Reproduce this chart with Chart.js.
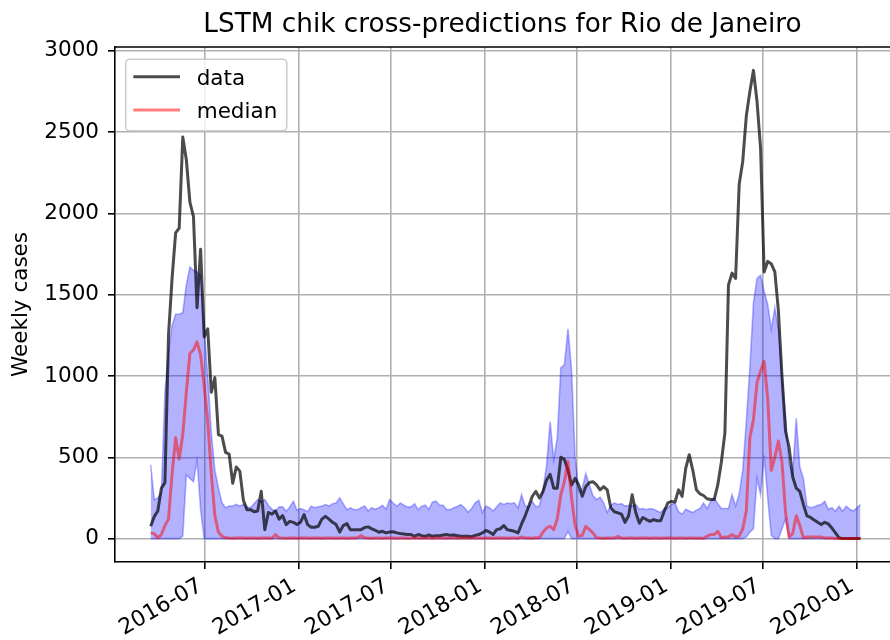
<!DOCTYPE html>
<html>
<head>
<meta charset="utf-8">
<script src="https://cdn.jsdelivr.net/npm/chart.js@4.4.1/dist/chart.umd.min.js"></script>
<style>
html,body{margin:0;padding:0;background:#fff;overflow:hidden;}
canvas{display:block;}
</style>
</head>
<body>
<canvas id="c" width="890" height="640"></canvas>
<script>
// ---------------- data (weekly, first week below) ----------------
const startDate = '2016-03-17';

const dataCases = [
  76, 135, 170, 310, 344, 1250, 1600, 1880, 1910, 2470,
  2330, 2070, 1980, 1420, 1780, 1240, 1290, 900, 990, 640,
  630, 530, 520, 340, 440, 415, 235, 178, 178, 165,
  170, 291, 55, 160, 150, 170, 120, 141, 86, 106,
  100, 86, 100, 148, 86, 70, 70, 76, 120, 137,
  120, 100, 86, 40, 80, 92, 55, 55, 55, 55,
  68, 72, 60, 51, 39, 45, 35, 40, 42, 35,
  31, 28, 25, 25, 14, 25, 18, 14, 22, 14,
  18, 18, 22, 25, 20, 22, 18, 14, 14, 14,
  12, 20, 25, 35, 50, 40, 25, 55, 60, 80,
  55, 50, 45, 35, 90, 140, 199, 260, 290, 250,
  290, 360, 395, 310, 310, 500, 486, 420, 330, 370,
  330, 260, 320, 345, 350, 330, 300, 320, 300, 190,
  165, 158, 150, 100, 140, 270, 160, 95, 130, 117,
  106, 117, 110, 110, 168, 220, 229, 225, 300, 260,
  430, 516, 420, 300, 275, 265, 245, 240, 240, 330,
  470, 650, 1560, 1633, 1600, 2180, 2320, 2600, 2750, 2880,
  2690, 2400, 1640, 1705, 1690, 1640, 1400, 1000, 660, 560,
  380, 310, 291, 210, 140, 130, 115, 100, 86, 100,
  90, 65, 35, 5, 0, 0, 0, 0, 0, 0
];

const medianCases = [
  35, 30, 5, 25, 80, 120, 400, 620, 490, 640,
  900, 1140, 1160, 1210, 1130, 940, 720, 400, 140, 40,
  15, 5, 3, 2, 3, 4, 3, 2, 3, 3,
  2, 3, 4, 3, 2, 25, 5, 3, 2, 3,
  3, 2, 3, 4, 3, 2, 3, 3, 2, 3,
  3, 4, 2, 3, 3, 2, 3, 3, 5, 18,
  5, 3, 2, 3, 3, 2, 3, 4, 3, 2,
  3, 3, 2, 3, 4, 3, 2, 3, 3, 2,
  3, 3, 4, 2, 3, 3, 2, 3, 3, 2,
  3, 4, 3, 2, 3, 3, 2, 3, 4, 3,
  2, 3, 3, 2, 10, 3, 3, 2, 5, 5,
  40, 65, 76, 55, 120, 270, 350, 475, 250, 80,
  14, 20, 75, 55, 35, 5, 3, 2, 3, 3,
  3, 14, 3, 2, 3, 3, 2, 3, 4, 3,
  2, 3, 3, 2, 3, 4, 3, 2, 3, 3,
  2, 3, 3, 2, 3, 0, 15, 25, 25, 45,
  5, 10, 10, 25, 10, 15, 60, 170, 620, 730,
  960, 1030, 1090, 860, 420, 500, 600, 470, 160, 10,
  30, 140, 80, 5, 10, 10, 10, 10, 10, 3,
  3, 3, 0, 0, 0, 0, 0, 0, 0, 0
];

const upperCases = [
  455, 240, 250, 280, 900, 1150, 1310, 1380, 1380, 1390,
  1560, 1670, 1650, 1640, 1620, 1300, 1000, 650, 420, 310,
  220, 190, 200, 200, 210, 200, 210, 195, 189, 215,
  240, 225, 240, 205, 180, 168, 195, 195, 168, 195,
  229, 175, 185, 178, 165, 199, 190, 195, 200, 209,
  200, 215, 219, 250, 215, 178, 189, 178, 178, 190,
  200, 170, 190, 180, 190, 205, 180, 240, 219, 199,
  219, 205, 195, 195, 215, 178, 199, 205, 180, 225,
  230, 205, 205, 178, 178, 190, 199, 209, 190, 162,
  185, 220, 235, 160, 200, 190, 170, 195, 219, 210,
  219, 215, 219, 189, 270, 200, 195, 229, 195, 200,
  300, 450, 720, 486, 620, 1050, 1070, 1290, 1040, 500,
  290, 310, 400, 330, 265, 240, 255, 220, 160, 205,
  219, 210, 215, 200, 205, 200, 210, 180, 185, 178,
  185, 180, 170, 160, 185, 190, 210, 219, 165, 150,
  180, 170, 160, 175, 185, 219, 185, 230, 250, 215,
  185, 185, 185, 270, 200, 275, 420, 720, 1050, 1450,
  1600, 1620, 1520, 1440, 1290, 1420, 1290, 1000, 750, 460,
  400, 740, 440, 370, 200, 190, 195, 205, 210, 229,
  180, 190, 168, 199, 168, 199, 180, 170, 189, 209
];

const lowerCases = [
  0, 0, 0, 0, 0, 0, 0, 0, 0, 15,
  390, 370, 350, 480, 180, 0, 0, 0, 0, 0,
  0, 0, 0, 0, 0, 0, 0, 0, 0, 0,
  0, 0, 0, 0, 0, 0, 0, 0, 0, 0,
  0, 0, 0, 0, 0, 0, 0, 0, 0, 0,
  0, 0, 0, 0, 0, 0, 0, 0, 0, 0,
  0, 0, 0, 0, 0, 0, 0, 0, 0, 0,
  0, 0, 0, 0, 0, 0, 0, 0, 0, 0,
  0, 0, 0, 0, 0, 0, 0, 0, 0, 0,
  0, 0, 0, 0, 0, 0, 0, 0, 0, 0,
  0, 0, 0, 0, 0, 0, 0, 0, 0, 0,
  0, 0, 0, 0, 0, 0, 0, 45, 0, 0,
  0, 0, 0, 0, 0, 0, 0, 0, 0, 0,
  0, 0, 0, 0, 0, 0, 0, 0, 0, 0,
  0, 0, 0, 0, 0, 0, 0, 0, 0, 0,
  0, 0, 0, 0, 0, 0, 0, 0, 0, 0,
  0, 0, 0, 0, 0, 0, 0, 10, 40, 60,
  370, 270, 510, 250, 20, 0, 0, 60, 120, 0,
  0, 0, 0, 0, 0, 0, 0, 0, 0, 0,
  0, 0, 0, 0, 0, 0, 0, 0, 0, 0
];

const xTickLabels = ['2016-07', '2017-01', '2017-07', '2018-01', '2018-07', '2019-01', '2019-07', '2020-01'];
const yTickValues = [0, 500, 1000, 1500, 2000, 2500, 3000];
const xRange = ['2016-01-07', '2020-03-07'];
const yRange = [-144, 3024];

// ---------------- helpers ----------------
const DAY = 86400000;
function dayNum(s) {
  const p = s.split('-').map(Number);
  return Date.UTC(p[0], p[1] - 1, p[2] || 1) / DAY;
}
const firstDay = dayNum(startDate);
const weekDays = dataCases.map((_, i) => firstDay + 7 * i);
const toPoints = arr => arr.map((v, i) => ({ x: weekDays[i], y: v }));

const FONT = '"DejaVu Sans", "Liberation Sans", sans-serif';
const BASE = 21.5;

// top spine (right spine lies just outside the picture)
const framePlugin = {
  id: 'frame',
  afterDatasetsDraw(chart) {
    const { ctx, chartArea: a } = chart;
    ctx.save();
    ctx.strokeStyle = '#000';
    ctx.lineWidth = 1.6;
    ctx.beginPath();
    ctx.moveTo(a.left, a.top);
    ctx.lineTo(a.right, a.top);
    ctx.stroke();
    ctx.restore();
  }
};

// matplotlib-like legend box in upper-left of axes
const legendPlugin = {
  id: 'mplLegend',
  afterDatasetsDraw(chart) {
    const ctx = chart.ctx, a = chart.chartArea;
    const entries = chart.data.datasets.filter(d => d.inLegend);
    const x0 = a.left + 10.7, y0 = a.top + 12.3, w = 161, h = 71.5;
    ctx.save();
    ctx.beginPath();
    if (ctx.roundRect) ctx.roundRect(x0, y0, w, h, 4); else ctx.rect(x0, y0, w, h);
    ctx.fillStyle = 'rgba(255,255,255,0.8)';
    ctx.fill();
    ctx.strokeStyle = '#cccccc';
    ctx.lineWidth = 1.6;
    ctx.stroke();
    entries.forEach((ds, k) => {
      const cy = y0 + 17.4 + k * 33.3;
      ctx.beginPath();
      ctx.moveTo(x0 + 7.6, cy);
      ctx.lineTo(x0 + 54.3, cy);
      ctx.strokeStyle = ds.borderColor;
      ctx.lineWidth = ds.borderWidth;
      ctx.lineCap = 'butt';
      ctx.stroke();
      ctx.fillStyle = '#000';
      ctx.font = BASE + 'px ' + FONT;
      ctx.textAlign = 'left';
      ctx.textBaseline = 'alphabetic';
      ctx.fillText(ds.label, x0 + 71, cy + 8.3);
    });
    ctx.restore();
  }
};

const gridOpts = {
  color: '#b0b0b0',
  lineWidth: 1.6,
  tickLength: 7,
  tickColor: '#000',
  tickWidth: 1.6,
  drawTicks: true
};

new Chart(document.getElementById('c'), {
  type: 'line',
  data: {
    datasets: [
      {
        label: 'data', inLegend: true, data: toPoints(dataCases),
        borderColor: 'rgba(0,0,0,0.7)', borderWidth: 3, pointRadius: 0,
        fill: false, tension: 0, borderJoinStyle: 'round', order: 1
      },
      {
        label: 'median', inLegend: true, data: toPoints(medianCases),
        borderColor: 'rgba(255,0,0,0.5)', borderWidth: 3, pointRadius: 0,
        fill: false, tension: 0, borderJoinStyle: 'round', order: 0
      },
      {
        label: 'upper', data: toPoints(upperCases),
        borderColor: 'rgba(0,0,255,0.3)', backgroundColor: 'rgba(0,0,255,0.3)',
        borderWidth: 1.6, pointRadius: 0, fill: '+1', tension: 0, order: 2
      },
      {
        label: 'lower', data: toPoints(lowerCases),
        borderColor: 'rgba(0,0,255,0.3)', backgroundColor: 'rgba(0,0,255,0.3)',
        borderWidth: 1.6, pointRadius: 0, fill: false, tension: 0, order: 3
      }
    ]
  },
  options: {
    responsive: false,
    animation: false,
    devicePixelRatio: 1,
    layout: { padding: { left: 0, right: -6, top: 0, bottom: 0 } },
    plugins: {
      legend: { display: false },
      tooltip: { enabled: false },
      filler: { drawTime: 'beforeDatasetsDraw' },
      title: {
        display: true,
        text: 'LSTM chik cross-predictions for Rio de Janeiro',
        color: '#000',
        fullSize: false,
        font: { family: FONT, size: 26.3, weight: 'normal', lineHeight: 1.2 },
        padding: { top: 9.2, bottom: 6.2 }
      }
    },
    scales: {
      x: {
        type: 'linear',
        min: dayNum(xRange[0]),
        max: dayNum(xRange[1]),
        afterBuildTicks: s => { s.ticks = xTickLabels.map(l => ({ value: dayNum(l + '-01') })); },
        afterFit: s => { s.height = 78; },
        ticks: {
          autoSkip: false, maxRotation: 30, minRotation: 30,
          padding: 4, labelOffset: -4, color: '#000',
          font: { family: FONT, size: 22 },
          callback: (v, i) => xTickLabels[i]
        },
        grid: gridOpts,
        border: { display: true, color: '#000', width: 1.6 }
      },
      y: {
        type: 'linear',
        min: yRange[0],
        max: yRange[1],
        afterBuildTicks: s => { s.ticks = yTickValues.map(v => ({ value: v })); },
        afterFit: s => { s.width = 115; },
        ticks: {
          padding: 9, color: '#000',
          font: { family: FONT, size: BASE },
          callback: v => String(v)
        },
        grid: gridOpts,
        border: { display: true, color: '#000', width: 1.6 },
        title: {
          display: true, text: 'Weekly cases', color: '#000',
          font: { family: FONT, size: BASE },
          padding: { top: 9, bottom: 0 }
        }
      }
    }
  },
  plugins: [framePlugin, legendPlugin]
});
</script>
</body>
</html>
